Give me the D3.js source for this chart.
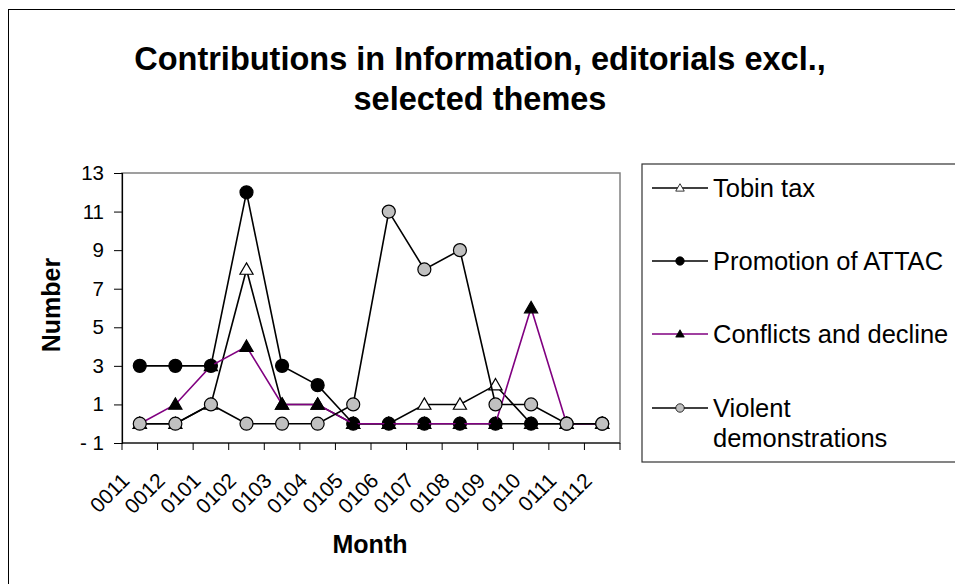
<!DOCTYPE html>
<html>
<head>
<meta charset="utf-8">
<script src="https://cdn.jsdelivr.net/npm/d3@7"></script>
<style>
	body { margin: 0; background: #fff; }
	text { font-family: 'Liberation Sans', Arial, sans-serif; }
</style>
</head>
<body>
<svg id="chart" width="955" height="584"></svg>
<script>
const months = ['0011', '0012', '0101', '0102', '0103', '0104', '0105', '0106', '0107', '0108', '0109', '0110', '0111', '0112'];
const tobinTax = [0, 0, 1, 8, 1, 1, 0, 0, 1, 1, 2, 0, 0, 0];
const promotionOfAttac = [3, 3, 3, 12, 3, 2, 0, 0, 0, 0, 0, 0, 0, 0];
const conflictsAndDecline = [0, 1, 3, 4, 1, 1, 0, 0, 0, 0, 0, 6, 0, 0];
const violentDemonstrations = [0, 0, 1, 0, 0, 0, 1, 11, 8, 9, 1, 1, 0, 0];
const yTicks = [-1, 1, 3, 5, 7, 9, 11, 13];

const series = [
	{ name: ['Tobin tax'], values: tobinTax, stroke: '#000', marker: 'triangle', fill: '#fff' },
	{ name: ['Promotion of ATTAC'], values: promotionOfAttac, stroke: '#000', marker: 'circle', fill: '#000' },
	{ name: ['Conflicts and decline'], values: conflictsAndDecline, stroke: '#800080', marker: 'triangle', fill: '#000' },
	{ name: ['Violent', 'demonstrations'], values: violentDemonstrations, stroke: '#000', marker: 'circle', fill: '#c0c0c0' },
];

const svg = d3.select('#chart');
const plot = { left: 122, right: 620, top: 173, bottom: 443 };

// outer chart frame (runs off the picture at right and bottom)
svg.append('rect')
	.attr('x', 8.5).attr('y', 9.5)
	.attr('width', 1000).attr('height', 1000)
	.attr('fill', 'none').attr('stroke', '#000').attr('stroke-width', 1);

const x = d3.scaleBand().domain(months).range([plot.left, plot.right]);
const y = d3.scaleLinear().domain([-1, 13]).range([plot.bottom, plot.top]);

// plot area border
svg.append('rect')
	.attr('x', plot.left).attr('y', plot.top)
	.attr('width', plot.right - plot.left).attr('height', plot.bottom - plot.top)
	.attr('fill', 'none').attr('stroke', '#808080').attr('stroke-width', 1.5);

// y axis
const yAxis = svg.append('g')
	.attr('transform', `translate(${plot.left},0)`)
	.call(d3.axisLeft(y).tickValues(yTicks).tickSize(8).tickPadding(10)
		.tickFormat((d) => (d < 0 ? '- ' + Math.abs(d) : String(d))));
yAxis.select('.domain').attr('stroke', '#000').attr('stroke-width', 1.2);
yAxis.selectAll('.tick line').attr('stroke', '#000');
yAxis.selectAll('.tick text').attr('font-size', 20.5).attr('fill', '#000')
	.attr('font-family', "'Liberation Sans', Arial, sans-serif");

// x axis: ticks between categories
const xAxis = svg.append('g').attr('transform', `translate(0,${plot.bottom})`);
xAxis.append('line')
	.attr('x1', plot.left).attr('x2', plot.right)
	.attr('stroke', '#000').attr('stroke-width', 1.2);
xAxis.selectAll('.sep')
	.data(months.concat(['end']))
	.join('line')
	.attr('class', 'sep')
	.attr('x1', (d, i) => plot.left + i * x.bandwidth())
	.attr('x2', (d, i) => plot.left + i * x.bandwidth())
	.attr('y1', 0).attr('y2', 7)
	.attr('stroke', '#000');
xAxis.selectAll('.lab')
	.data(months)
	.join('text')
	.attr('class', 'lab')
	.attr('text-anchor', 'end')
	.attr('font-size', 21)
	.attr('transform', (d) => `translate(${x(d) + x.bandwidth() / 2 - 9},${39}) rotate(-45)`)
	.text((d) => d);

// lines and markers
const line = d3.line()
	.x((d, i) => x(months[i]) + x.bandwidth() / 2)
	.y((d) => y(d));

const tri = d3.symbol().type(d3.symbolTriangle).size(75);

function drawMarker(sel, s) {
	if (s.marker === 'circle') {
		sel.append('circle').attr('r', 6.5);
	} else {
		sel.append('path').attr('d', tri).attr('transform', 'translate(0,1)');
	}
	sel.selectAll('circle, path')
		.attr('fill', s.fill).attr('stroke', '#000').attr('stroke-width', 1.2);
}

series.forEach((s) => {
	const g = svg.append('g').attr('class', 'series');
	g.append('path')
		.datum(s.values)
		.attr('d', line)
		.attr('fill', 'none')
		.attr('stroke', s.stroke)
		.attr('stroke-width', 1.6);
	g.selectAll('.pt')
		.data(s.values)
		.join('g')
		.attr('class', 'pt')
		.attr('transform', (d, i) => `translate(${x(months[i]) + x.bandwidth() / 2},${y(d)})`)
		.each(function () { drawMarker(d3.select(this), s); });
});

// axis titles
svg.append('text')
	.attr('transform', 'translate(60,305) rotate(-90)')
	.attr('text-anchor', 'middle')
	.attr('font-size', 25).attr('font-weight', 'bold')
	.text('Number');
svg.append('text')
	.attr('x', 370).attr('y', 553)
	.attr('text-anchor', 'middle')
	.attr('font-size', 25).attr('font-weight', 'bold')
	.text('Month');

// title
svg.append('text')
	.attr('x', 480).attr('y', 70)
	.attr('text-anchor', 'middle')
	.attr('font-size', 32.5).attr('font-weight', 'bold')
	.text('Contributions in Information, editorials excl.,');
svg.append('text')
	.attr('x', 480).attr('y', 110)
	.attr('text-anchor', 'middle')
	.attr('font-size', 32.5).attr('font-weight', 'bold')
	.text('selected themes');

// legend
const legend = svg.append('g');
legend.append('rect')
	.attr('x', 642).attr('y', 164)
	.attr('width', 400).attr('height', 298)
	.attr('fill', '#fff').attr('stroke', '#333').attr('stroke-width', 1.2);

const legendRows = [188, 261, 334, 408];
series.forEach((s, i) => {
	const row = legend.append('g').attr('transform', `translate(0,${legendRows[i]})`);
	row.append('line')
		.attr('x1', 652).attr('x2', 708)
		.attr('stroke', s.stroke).attr('stroke-width', 1.6);
	const m = row.append('g').attr('transform', 'translate(680,0) scale(0.65)');
	drawMarker(m, s);
	row.selectAll('text')
		.data(s.name)
		.join('text')
		.attr('x', 713)
		.attr('y', (d, j) => 9 + j * 30)
		.attr('font-size', 25.5)
		.text((d) => d);
});
</script>
</body>
</html>
